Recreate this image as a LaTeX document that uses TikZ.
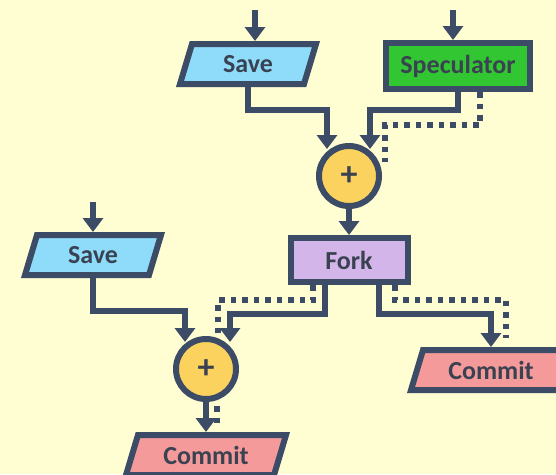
\documentclass[tikz,border=0pt]{standalone}
\usepackage{fontspec}
\setmainfont{Carlito}
\usetikzlibrary{arrows.meta,backgrounds}

\definecolor{paper}{HTML}{FFFDD2}
\definecolor{ink}{HTML}{3D4C66}
\definecolor{textgrey}{HTML}{3A4252}
\definecolor{saveblue}{HTML}{8EDCFA}
\definecolor{specgreen}{HTML}{33C633}
\definecolor{forkpurple}{HTML}{D4B5EA}
\definecolor{commitred}{HTML}{F59A9A}
\definecolor{joinyellow}{HTML}{FBD25E}

\tikzset{
  lbl/.style={font=\fontsize{26}{29}\selectfont\bfseries, text=textgrey},
  slant/.style={lbl, inner sep=0pt, outer sep=3pt, minimum width=124pt, minimum height=40pt},
  boxnode/.style={lbl, draw=ink, line width=6pt, line join=miter, inner sep=0pt},
  joinnode/.style={circle, draw=ink, fill=joinyellow, line width=6pt, minimum size=60pt, inner sep=0pt,
    font=\fontsize{34}{34}\selectfont\bfseries, text=textgrey},
  flow/.style={draw=ink, line width=6pt, line join=miter, -{Triangle[length=14pt,width=20pt]}},
  spec/.style={draw=ink, line width=5.5pt, dash pattern=on 5.5pt off 6pt},
}

% parallelogram frame drawn around a node built with the slant style
\newcommand\slantframe[2]{%
  \path[draw=ink, fill=#2, line width=6pt, line join=miter]
    ([shift={(9,3)}]#1.north west) -- ([shift={(3,3)}]#1.north east)
    -- ([shift={(-9,-3)}]#1.south east) -- ([shift={(-3,-3)}]#1.south west) -- cycle;}

\begin{document}
\begin{tikzpicture}[x=1pt,y=-1pt]
  \useasboundingbox (0,0) rectangle (556,474);

  % nodes
  \node[slant] (s1) at (248,64) {Save};
  \node[boxnode, fill=specgreen, minimum width=144pt, minimum height=46pt] (spec) at (458,66) {Speculator};
  \node[joinnode] (c1) at (349,176) {+};
  \node[boxnode, fill=forkpurple, minimum width=117pt, minimum height=44pt] (fork) at (349,260) {Fork};
  \node[slant] (s2) at (93,255) {Save};
  \node[joinnode] (c2) at (206,369) {+};
  \node[slant, minimum width=148pt] (cr) at (491,370) {Commit};
  \node[slant, minimum width=148pt] (cb) at (206,455) {Commit};

  \begin{pgfonlayer}{background}
    \fill[paper] (0,0) rectangle (556,474);
    \slantframe{s1}{saveblue}
    \slantframe{s2}{saveblue}
    \slantframe{cr}{commitred}
    \slantframe{cb}{commitred}
  \end{pgfonlayer}

  % incoming arrows
  \coordinate (in1) at (255,10);
  \coordinate (in2) at (453,10);
  \coordinate (in3) at (93,202);
  \draw[flow] (in1) -- (in1 |- s1.north);
  \draw[flow] (in2) -- (in2 |- spec.north);
  \draw[flow] (in3) -- (in3 |- s2.north);

  % upper join
  \draw[flow] (s1.south) -- ++(0,23) -| ([shift={(-22,6)}]c1.north);
  \draw[flow] (spec.south) -- ++(0,18) -| ([shift={(21,6)}]c1.north);
  \draw[spec] ([xshift=22pt]spec.south) -- ++(0,33) -| ([shift={(36,19)}]c1.north);
  \draw[flow] (c1.south) -- (fork.north);

  % fork outputs
  \draw[flow] ([xshift=30pt]fork.south) -- ++(0,29) -| (cr.north);
  \draw[spec] ([xshift=46pt]fork.south) -- ++(0,15) -| ([shift={(15,-9)}]cr.north);
  \draw[flow] ([xshift=-24pt]fork.south) -- ++(0,29) -| ([shift={(24,6)}]c2.north);
  \draw[spec] ([xshift=-36pt]fork.south) -- ++(0,15) -| ([shift={(12,-3)}]c2.north);

  % lower join
  \draw[flow] (s2.south) -- ++(0,33) -| ([shift={(-21,6)}]c2.north);
  \draw[flow] (c2.south) -- (cb.north);
  \draw[spec] ([shift={(11,4)}]c2.south) -- ([shift={(11,-8)}]cb.north);
\end{tikzpicture}
\end{document}
